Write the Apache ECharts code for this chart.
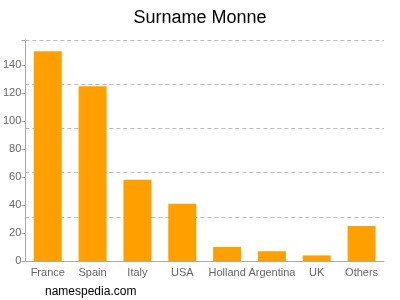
<!DOCTYPE html>
<html><head><meta charset="utf-8">
<script src="https://cdn.jsdelivr.net/npm/echarts@6/dist/echarts.min.js"></script>
<style>html,body{margin:0;padding:0;background:#fff}#c{width:400px;height:300px}</style>
</head><body><div id="c"></div>
<script>
const categories = ["France","Spain","Italy","USA","Holland","Argentina","UK","Others"];
const counts = [150,125,58,41,10,7,4,25];
const yTicks = [0,20,40,60,80,100,120,140];
const chart = echarts.init(document.getElementById('c'));
chart.setOption({
  animation:false,
  title:{text:'Surname Monne',left:'center',top:4,textStyle:{fontFamily:'Liberation Sans',fontSize:18,fontWeight:'normal',color:'#000'}},
  graphic:[{type:'text',left:45,top:286,style:{text:'namespedia.com',font:'12px "Liberation Sans"',fill:'#000'}}],
  grid:{left:24,right:16,top:40,bottom:39},
  xAxis:{type:'category',data:categories,
    axisLine:{lineStyle:{color:'#aaa'}},
    axisTick:{alignWithLabel:true,lineStyle:{color:'#aaa'},length:4},
    axisLabel:{color:'#666',fontFamily:'Liberation Sans',fontSize:11,interval:0,margin:6}},
  yAxis:[{type:'value',min:0,max:158,interval:20,
    axisLine:{show:true,lineStyle:{color:'#aaa'}},
    axisTick:{show:true,lineStyle:{color:'#aaa'},length:4},
    splitLine:{show:false},
    axisLabel:{color:'#666',fontFamily:'Liberation Sans',fontSize:11,margin:4,
      formatter:v=>yTicks.includes(v)?String(v):''}},
   {type:'value',min:0,max:158,interval:31.6,position:'left',
    axisLine:{show:false},axisTick:{show:false},axisLabel:{show:false},
    splitLine:{show:true,lineStyle:{color:'#bbb',type:[4,3]}}}],
  series:[{type:'bar',data:counts,barWidth:28,itemStyle:{color:'#ffa000'},yAxisIndex:0}]
});
</script></body></html>
